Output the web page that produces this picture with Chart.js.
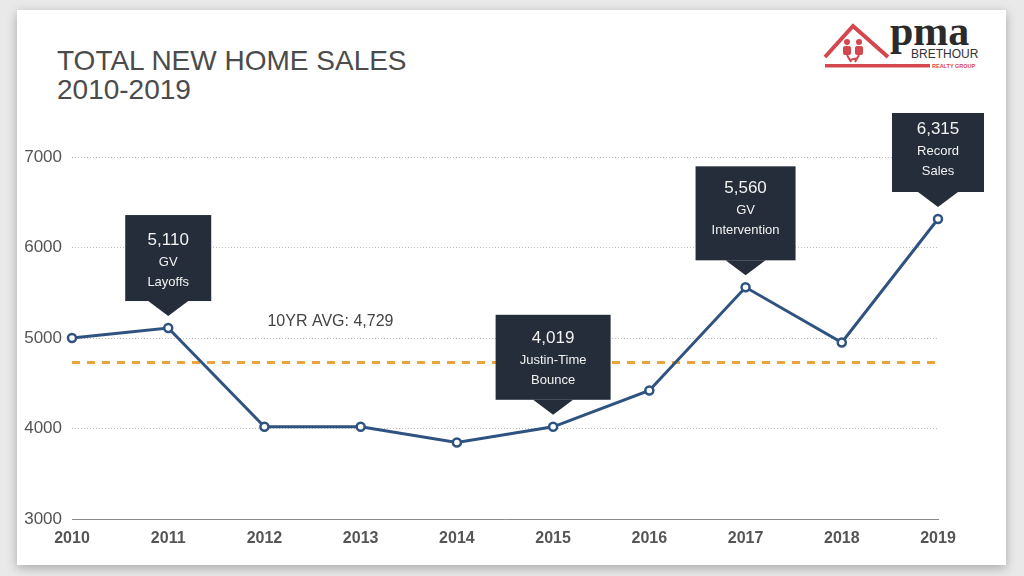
<!DOCTYPE html>
<html>
<head>
<meta charset="utf-8">
<script src="https://cdn.jsdelivr.net/npm/chart.js@4"></script>
<style>
  html, body { margin: 0; padding: 0; }
  body { width: 1024px; height: 576px; background: #e9e9e9; position: relative; overflow: hidden; font-family: "Liberation Sans", Arial, sans-serif; }
  .card { position: absolute; left: 17px; top: 10px; width: 989px; height: 555px; background: #fff; box-shadow: 0 3px 10px rgba(0,0,0,0.28); }
  .title { position: absolute; left: 57px; top: 46px; font-size: 28px; line-height: 29px; color: #4b4b4b; }
  .logo { position: absolute; left: 820px; top: 12px; }
  canvas { position: absolute; left: 0; top: 0; }
</style>
</head>
<body>
<div class="card"></div>
<div class="title">TOTAL NEW HOME SALES<br>2010-2019</div>
<svg class="logo" width="170" height="64">
  <polyline points="5,45 33,14 68,45" fill="none" stroke="#d4474e" stroke-width="4"/>
  <circle cx="27" cy="30" r="3" fill="#d4474e"/>
  <circle cx="39" cy="30" r="3" fill="#d4474e"/>
  <rect x="23" y="34" width="8" height="9" rx="2" fill="#d4474e"/>
  <rect x="35" y="34" width="8" height="9" rx="2" fill="#d4474e"/>
  <path d="M27 43 L31 50 M39 43 L35 50 M30 48 L38 46" stroke="#d4474e" stroke-width="2" fill="none"/>
  <rect x="5" y="52" width="105" height="3.5" fill="#d4474e"/>
  <text x="70" y="33" font-family="Liberation Serif, serif" font-size="42" font-weight="bold" fill="#2b2b2b">pma</text>
  <text x="91" y="46" font-family="Liberation Sans, sans-serif" font-size="12" fill="#333">BRETHOUR</text>
  <text x="112" y="56" font-family="Liberation Sans, sans-serif" font-size="5.5" font-weight="bold" fill="#d4474e">REALTY GROUP</text>
</svg>
<canvas id="chartCanvas" width="1024" height="576"></canvas>
<script>
// data
const years = ['2010', '2011', '2012', '2013', '2014', '2015', '2016', '2017', '2018', '2019'];
const sales = [5000, 5110, 4020, 4020, 3845, 4019, 4420, 5560, 4950, 6315];
const avgSales = 4729;
const yTicks = [3000, 4000, 5000, 6000, 7000];
const noteIndex = [1, 5, 7, 9];
const noteLines = [['GV', 'Layoffs'], ['Justin-Time', 'Bounce'], ['GV', 'Intervention'], ['Record', 'Sales']];

// box look for each note
const noteBoxes = [
    { w: 86, h: 86, textTop: 25 },
    { w: 115, h: 85, textTop: 24 },
    { w: 100, h: 94, textTop: 22 },
    { w: 92, h: 79, textTop: 16 }
];

const notePlugin = {
    id: 'notes',
    afterDatasetsDraw(chart) {
        const ctx = chart.ctx;
        const meta = chart.getDatasetMeta(0);
        const yScale = chart.scales.y;
        const xScale = chart.scales.x;

        // avg label
        ctx.save();
        ctx.fillStyle = '#444';
        ctx.font = '16px "Liberation Sans", Arial, sans-serif';
        ctx.textAlign = 'left';
        ctx.textBaseline = 'middle';
        ctx.fillText('10YR AVG: ' + avgSales.toLocaleString('en-US'), xScale.getPixelForValue(2) + 3, yScale.getPixelForValue(avgSales) - 41);
        ctx.restore();

        noteIndex.forEach((idx, n) => {
            const pt = meta.data[idx];
            const box = noteBoxes[n];
            const tipY = pt.y - 12;
            const bottom = tipY - 15;
            const top = bottom - box.h;
            const left = pt.x - box.w / 2;
            ctx.save();
            ctx.fillStyle = '#252d3a';
            ctx.fillRect(left, top, box.w, box.h);
            ctx.beginPath();
            ctx.moveTo(pt.x - 20, bottom);
            ctx.lineTo(pt.x + 20, bottom);
            ctx.lineTo(pt.x, tipY);
            ctx.closePath();
            ctx.fill();
            ctx.fillStyle = '#f2f2f2';
            ctx.textAlign = 'center';
            ctx.textBaseline = 'middle';
            ctx.font = '17px "Liberation Sans", Arial, sans-serif';
            ctx.fillText(sales[idx].toLocaleString('en-US'), pt.x, top + box.textTop);
            ctx.font = '13px "Liberation Sans", Arial, sans-serif';
            noteLines[n].forEach((line, i) => {
                ctx.fillText(line, pt.x, top + box.textTop + 22 + i * 20);
            });
            ctx.restore();
        });
    }
};

const ctx = document.getElementById('chartCanvas').getContext('2d');
const salesChart = new Chart(ctx, {
    type: 'line',
    data: {
        labels: years,
        datasets: [{
            label: 'Total New Home Sales',
            data: sales,
            borderColor: '#2f5381',
            borderWidth: 3,
            pointRadius: 4,
            pointBorderWidth: 2.5,
            pointBackgroundColor: '#ffffff',
            pointBorderColor: '#2f5381',
            tension: 0,
            clip: false,
            order: 1
        }, {
            label: '10YR AVG',
            data: years.map(() => avgSales),
            borderColor: '#eaa43f',
            borderWidth: 3,
            borderDash: [8, 7],
            pointRadius: 0,
            clip: false,
            order: 2
        }]
    },
    options: {
        responsive: false,
        animation: false,
        layout: { padding: { left: 20, right: 86, top: 157, bottom: 0 } },
        plugins: {
            legend: { display: false },
            tooltip: { enabled: false }
        },
        scales: {
            x: {
                offset: false,
                grid: { display: false, drawTicks: false },
                border: { display: true, color: '#8a8a8a', width: 1 },
                ticks: {
                    padding: 10,
                    color: '#555',
                    font: { family: '"Liberation Sans", Arial, sans-serif', size: 16, weight: 'bold' }
                },
                afterFit: (scale) => { scale.height = 57; }
            },
            y: {
                min: 3000,
                max: 7000,
                afterBuildTicks: (scale) => { scale.ticks = yTicks.map(v => ({ value: v })); },
                grid: { color: '#bdbdbd', lineWidth: 1, drawTicks: false },
                border: { display: false, dash: [1, 2] },
                ticks: {
                    padding: 10,
                    color: '#555',
                    font: { family: '"Liberation Sans", Arial, sans-serif', size: 17 },
                    callback: (value) => String(value)
                },
                afterFit: (scale) => { scale.width = 52; }
            }
        }
    },
    plugins: [notePlugin]
});
</script>
</body>
</html>
